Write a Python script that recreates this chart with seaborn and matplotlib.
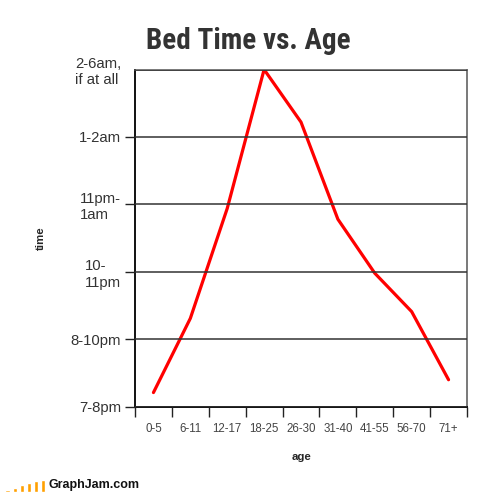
import matplotlib
matplotlib.use("Agg")
import matplotlib.pyplot as plt
import seaborn as sns
import pandas as pd

ages = ['0-5', '6-11', '12-17', '18-25', '26-30', '31-40', '41-55', '56-70', '71+']
bedtime = [0.21, 1.31, 2.94, 5.0, 4.22, 2.78, 1.98, 1.41, 0.40]
time_labels = ['7-8pm', '8-10pm', '10-\n11pm', '11pm-\n1am', '1-2am', '2-6am,\nif at all']
logo_bars = [2, 4, 6, 8, 10, 11]

df = pd.DataFrame({'age': ages, 'time': bedtime})

sns.set_style("white")
plt.rcParams['font.family'] = ['Liberation Sans', 'DejaVu Sans']

fig = plt.figure(figsize=(5.0, 4.93), dpi=100)
ax = fig.add_axes([0.27, 0.175, 0.664, 0.684])

sns.lineplot(data=df, x='age', y='time', sort=False, color='#ff0000', linewidth=2.3, ax=ax)

ax.set_xlim(-0.5, len(ages) - 0.5)
ax.set_ylim(0, 5)

# y axis: tick labels with grid lines
ax.set_yticks(range(len(time_labels)))
ax.set_yticklabels(time_labels, fontsize=10.7, color='#333333')
for lab in ax.get_yticklabels():
    lab.set_multialignment('left')
ax.tick_params(axis='y', length=7, width=1, color='#222222', pad=3, left=True)
ax.yaxis.get_major_ticks()[-1].tick1line.set_visible(False)
ax.grid(axis='y', color='#333333', linewidth=1.1)
ax.set_axisbelow(False)

# x axis: labels centred in cells, tick marks at cell edges
ax.set_xticks(range(len(ages)))
ax.set_xticklabels(ages, fontsize=8.3, color='#444444')
ax.set_xticks([i - 0.5 for i in range(len(ages) + 1)], minor=True)
ax.tick_params(axis='x', which='major', length=0, pad=12)
ax.tick_params(axis='x', which='minor', length=7, width=1, color='#222222', bottom=True)

ax.set_xlabel('age', fontsize=8.2, fontweight='bold', labelpad=12)
ax.set_ylabel('time', fontsize=8.2, fontweight='bold', labelpad=18)

for side in ['left', 'bottom']:
    ax.spines[side].set_color('#111111')
    ax.spines[side].set_linewidth(1.4)
for side in ['top', 'right']:
    ax.spines[side].set_color('#555555')
    ax.spines[side].set_linewidth(1.1)

fig.text(0.497, 0.916, 'Bed Time vs. Age', ha='center', va='center',
         fontsize=21, fontweight='heavy', fontstretch='condensed', color='#333333',
         family=['Roboto Condensed', 'DejaVu Sans'])

# GraphJam logo
lax = fig.add_axes([0.008, 0.002, 0.085, 0.025])
lax.bar(range(len(logo_bars)), logo_bars, width=0.6, color='#ffa000')
lax.set_xlim(-0.5, len(logo_bars) - 0.5)
lax.set_ylim(0, max(logo_bars))
lax.axis('off')
fig.text(0.097, 0.004, 'GraphJam.com', ha='left', va='bottom',
         fontsize=9, fontweight='bold', color='#111111')

fig.savefig('out.png', dpi=100)
